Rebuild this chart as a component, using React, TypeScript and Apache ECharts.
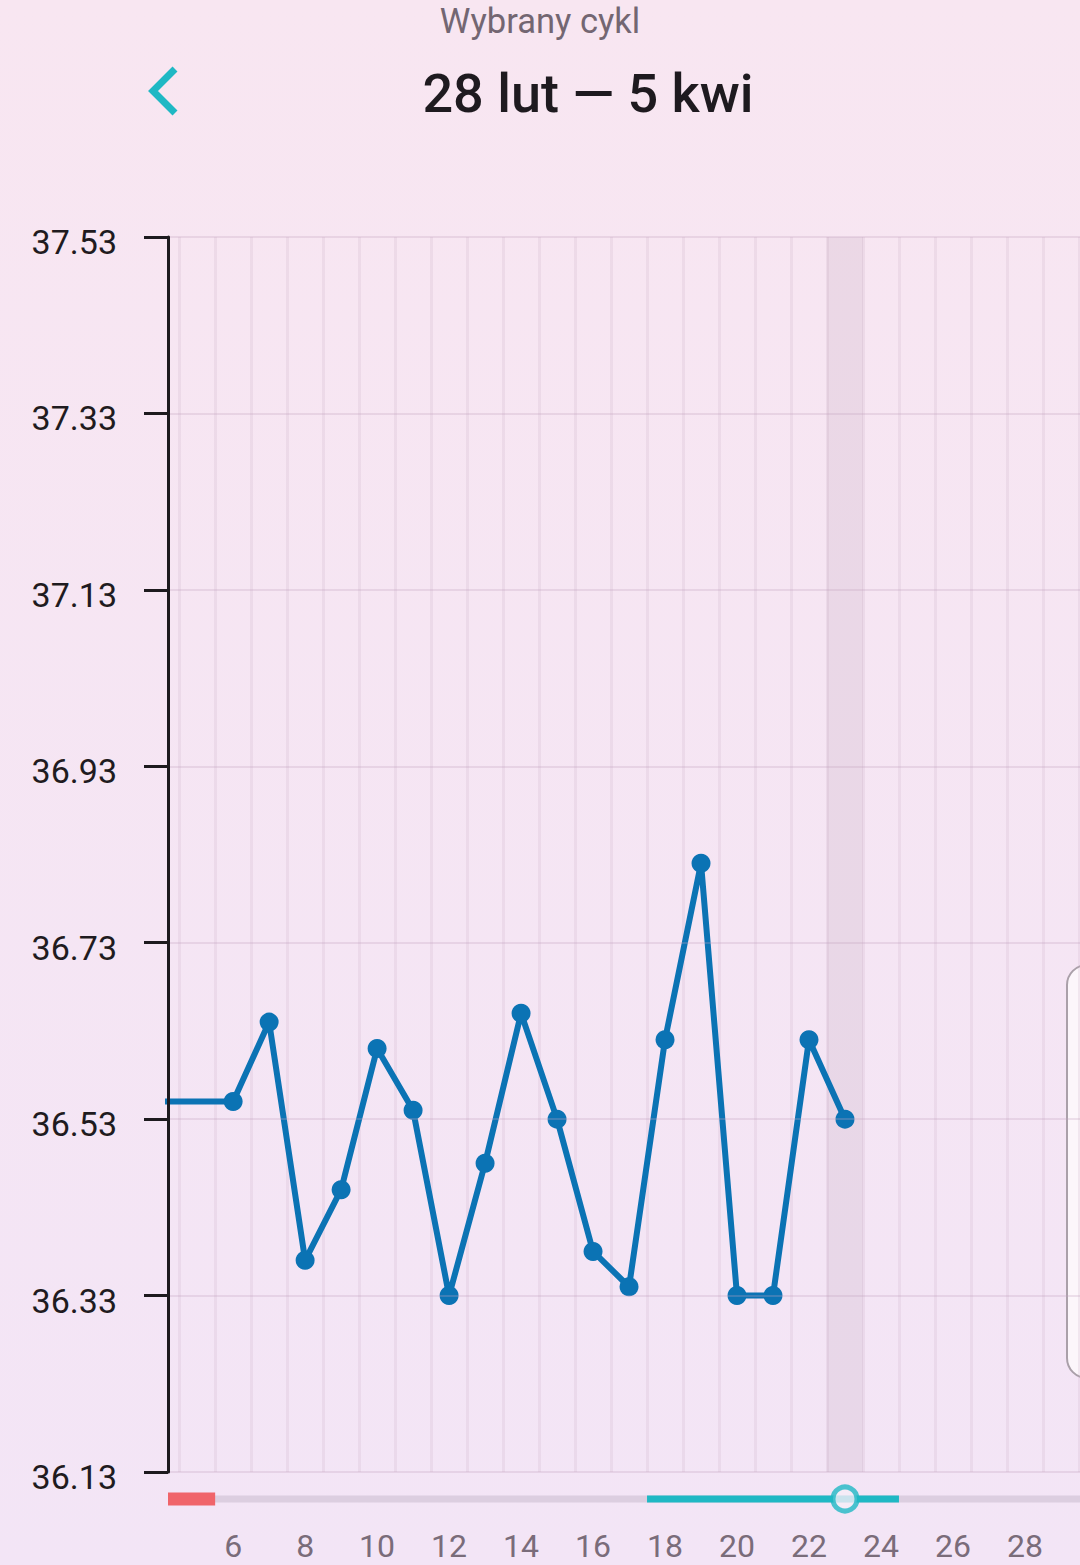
import React, { useEffect, useRef } from "react";
import * as echarts from "echarts";

// ---- data ----
const DAYS = [4, 6, 7, 8, 9, 10, 11, 12, 13, 14, 15, 16, 17, 18, 19, 20, 21, 22, 23];
const TEMPS = [36.55, 36.55, 36.64, 36.37, 36.45, 36.61, 36.54, 36.33, 36.48, 36.65, 36.53, 36.38, 36.34, 36.62, 36.82, 36.33, 36.33, 36.62, 36.53];
const Y_TICKS = [36.13, 36.33, 36.53, 36.73, 36.93, 37.13, 37.33, 37.53];
const X_LABELS = [6, 8, 10, 12, 14, 16, 18, 20, 22, 24, 26, 28];
const PERIOD_DAYS = [1, 5];
const FERTILE_DAYS = [18, 24];
const TODAY = 23;
const VIEW_DAYS = [4.19, 29.53];
const TITLE = "Wybrany cykl";
const SUBTITLE = "28 lut \u2014 5 kwi";

const FONT = "Roboto";
const TEAL = "#1fb8c4";

export default function App() {
  const ref = useRef<HTMLDivElement>(null);

  useEffect(() => {
    if (!ref.current) return;
    const chart = echarts.init(ref.current, null, { renderer: "svg" });
    const [xMin, xMax] = VIEW_DAYS;
    const halfDays: number[] = [];
    for (let d = Math.floor(xMin); d <= Math.ceil(xMax); d++) halfDays.push(d + 0.5);

    const seg = (a: number, b: number) => [
      [Math.max(a - 0.5, xMin), 0],
      [Math.min(b + 0.5, xMax), 0],
    ];

    const option: any = {
      animation: false,
      backgroundColor: {
        type: "linear",
        x: 0,
        y: 0,
        x2: 0,
        y2: 1,
        colorStops: [
          { offset: 0, color: "#f8e6f1" },
          { offset: 1, color: "#f3e5f6" },
        ],
      },
      textStyle: { fontFamily: FONT },
      grid: [
        { left: 168, right: 0, top: 237, bottom: 93 },
        { left: 168, right: 0, top: 1486, height: 26 },
      ],
      xAxis: [
        {
          type: "value",
          gridIndex: 0,
          min: xMin,
          max: xMax,
          axisLine: { show: false },
          axisTick: { show: false, customValues: halfDays },
          axisLabel: {
            customValues: X_LABELS,
            color: "#7a6c7a",
            fontSize: 32,
            lineHeight: 28,
            fontFamily: FONT,
            margin: 60,
          },
          splitLine: {
            show: true,
            lineStyle: { color: "rgba(200,170,195,0.2)", width: 3 },
          },
        },
        {
          type: "value",
          gridIndex: 1,
          min: xMin,
          max: xMax,
          show: false,
        },
      ],
      yAxis: [
        {
          type: "value",
          gridIndex: 0,
          z: 10,
          min: Y_TICKS[0],
          max: Y_TICKS[Y_TICKS.length - 1],
          axisLine: { show: true, lineStyle: { color: "#1d1a1e", width: 3 } },
          axisTick: {
            show: true,
            customValues: Y_TICKS,
            length: 24,
            lineStyle: { color: "#1d1a1e", width: 3 },
          },
          axisLabel: {
            customValues: Y_TICKS,
            formatter: (v: number) => v.toFixed(2),
            color: "#1f1b20",
            fontSize: 34,
            fontFamily: FONT,
            margin: 51,
            verticalAlign: "top",
            lineHeight: 10,
          },
          splitLine: {
            show: true,
            lineStyle: { color: "rgba(195,160,190,0.28)", width: 2 },
          },
        },
        {
          type: "value",
          gridIndex: 1,
          min: -1,
          max: 1,
          show: false,
        },
      ],
      series: [
        {
          type: "line",
          xAxisIndex: 0,
          yAxisIndex: 0,
          z: 1,
          data: [],
          markArea: {
            silent: true,
            itemStyle: { color: "rgba(175,140,170,0.16)" },
            data: [[{ xAxis: TODAY - 0.5 }, { xAxis: TODAY + 0.5 }]],
          },
        },
        {
          type: "line",
          xAxisIndex: 0,
          yAxisIndex: 0,
          z: 3,
          clip: true,
          data: DAYS.map((d, i) => [d, TEMPS[i]]),
          lineStyle: { color: "#0b73b4", width: 6 },
          itemStyle: { color: "#0b73b4" },
          symbol: "circle",
          symbolSize: 19,
          showAllSymbol: true,
        },
        {
          type: "line",
          xAxisIndex: 1,
          yAxisIndex: 1,
          data: [
            [xMin, 0],
            [xMax, 0],
          ],
          symbol: "none",
          lineStyle: { color: "#dccee0", width: 7 },
        },
        {
          type: "line",
          xAxisIndex: 1,
          yAxisIndex: 1,
          clip: true,
          data: seg(PERIOD_DAYS[0], PERIOD_DAYS[1]),
          symbol: "none",
          lineStyle: { color: "#f0646a", width: 13 },
        },
        {
          type: "line",
          xAxisIndex: 1,
          yAxisIndex: 1,
          clip: true,
          data: seg(FERTILE_DAYS[0], FERTILE_DAYS[1]),
          symbol: "none",
          lineStyle: { color: TEAL, width: 7 },
        },
        {
          type: "scatter",
          xAxisIndex: 1,
          yAxisIndex: 1,
          z: 5,
          data: [[TODAY, 0]],
          symbol: "circle",
          symbolSize: 24,
          itemStyle: { color: "#f6eef8", borderColor: TEAL, borderWidth: 5 },
        },
      ],
      graphic: [
        {
          type: "text",
          x: 540,
          y: 21,
          style: {
            text: TITLE,
            fill: "#736672",
            font: `400 34.5px ${FONT}`,
            textAlign: "center",
            textVerticalAlign: "middle",
          },
        },
        {
          type: "text",
          x: 588,
          y: 93,
          style: {
            text: SUBTITLE,
            fill: "#1e1a1f",
            font: `500 54px ${FONT}`,
            textAlign: "center",
            textVerticalAlign: "middle",
          },
        },
        {
          type: "polyline",
          shape: {
            points: [
              [175, 69],
              [153, 91],
              [175, 113],
            ],
          },
          style: { stroke: TEAL, lineWidth: 7, fill: null, lineJoin: "miter" },
        },
        {
          type: "rect",
          shape: { x: 1067, y: 965, width: 40, height: 413, r: 20 },
          style: { fill: "#fcf6fb", stroke: "#aaa0a9", lineWidth: 2 },
        },
      ],
    };
    chart.setOption(option);
    return () => chart.dispose();
  }, []);

  return (
    <div
      ref={ref}
      style={{ position: "fixed", left: 0, top: 0, width: 1080, height: 1565 }}
    />
  );
}
